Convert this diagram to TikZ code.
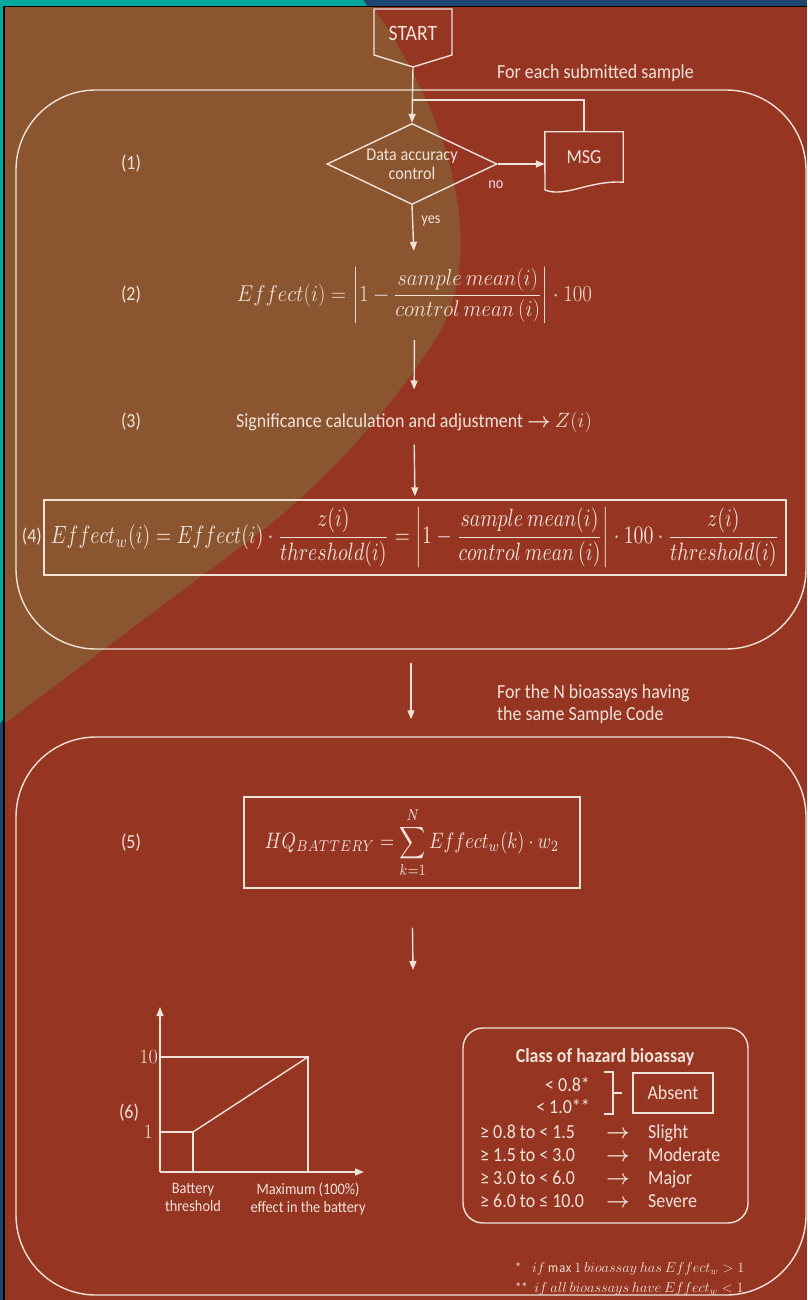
\documentclass[tikz,border=0pt]{standalone}
\usepackage{amsmath}
\usepackage{graphicx}
\usepackage{fontspec}
\setmainfont{Carlito}[FakeStretch=0.9]
\usetikzlibrary{arrows.meta,shapes.geometric}

\definecolor{panelred}{RGB}{150,53,34}
\definecolor{overlaybrown}{RGB}{139,85,48}
\definecolor{frameteal}{RGB}{0,168,158}
\definecolor{framenavy}{RGB}{30,68,112}
\definecolor{chalk}{RGB}{240,226,217}

\newcommand{\thickto}{$\boldsymbol{\rightarrow}$}

\begin{document}
\begin{tikzpicture}[x=1bp, y=-1bp,
    line/.style={draw=chalk, line width=1.4bp},
    arr/.style={line, -{Triangle[width=7bp,length=9bp]}},
    txt/.style={text=chalk, inner sep=0pt, font=\fontsize{20}{23}\selectfont},
    small/.style={font=\fontsize{16}{18}\selectfont},
    bigbox/.style={line, rounded corners=80bp, minimum width=790bp, minimum height=559bp},
]
    % background and frame
    \useasboundingbox (0,0) rectangle (807,1300);
    \fill[framenavy] (0,0) rectangle (807,1300);
    \fill[frameteal] (0,0) -- (363,0) -- (368,7) -- (4,7) -- (4,718) -- (0,724) -- cycle;
    \fill[panelred] (4,7) rectangle (807,1300);
    \fill[overlaybrown] (4,7) -- (373,7) .. controls (445,110) and (495,250) .. (432,345)
        .. controls (392,405) and (330,480) .. (250,540) -- (4,724) -- cycle;
    \draw[black, line width=1.5bp] (4,1300) -- (4,6.5) -- (807,6.5);

    % (1) data check
    \node[txt, font=\fontsize{22}{24}\selectfont] (start) at (413,33) {START};
    \draw[line] (374,9) -- (452,9) -- (452,55) -- (413,67) -- (374,55) -- cycle;
    \coordinate (startpt) at (413,67);
    \coordinate (join) at (413,100);

    \node[txt, anchor=west] (each) at (497,73) {For each submitted sample};
    \node[bigbox] (loopA) at (411,369.5) {};

    \node[line, diamond, aspect=2.1, minimum width=170bp, minimum height=81bp, inner sep=-4bp,
        align=center, text=chalk, font=\fontsize{18}{19}\selectfont] (check) at (412,164) {Data accuracy\\control};
    \node[txt, minimum width=78bp, minimum height=50bp] (msg) at (584,157) {MSG};
    \draw[line] (msg.north west) -- (msg.north east) -- (msg.south east)
        .. controls (590,180) and (565,198) .. (545,190) -- cycle;

    \draw[arr] (startpt) -- (check.north);
    \draw[arr] (check.east) -- (check.east -| msg.west);
    \draw[line] (msg.north) |- (join);
    \node[txt, small] (nolbl) at (496,185) {no};
    \node[txt, small] (yeslbl) at (431,221) {yes};
    \node[txt] (n1) at (131,164) {(1)};

    % (2) effect
    \node[txt] (eff) at (414.5,295.5)
        {\resizebox*{355bp}{55bp}{$Effect(i)=\left|1-\dfrac{sample\ mean(i)}{control\ mean\ (i)}\right|\cdot 100$}};
    \node[txt] (n2) at (131,295) {(2)};
    \draw[arr, shorten >=17bp] (check.south) -- (eff.north);

    % (3) significance
    \node[txt] (signif) at (414,422) {Significance calculation and adjustment \thickto\ $Z(i)$};
    \node[txt] (n3) at (131,422) {(3)};
    \draw[arr, shorten <=17bp, shorten >=22bp] (eff.south) -- (signif.north);

    % (4) weighted effect
    \node[line, text=chalk, inner sep=0pt, minimum width=742bp, minimum height=75bp] (weighted) at (415,537.5)
        {\resizebox*{728bp}{60bp}{$Effect_w(i)=Effect(i)\cdot\dfrac{z(i)}{threshold(i)}=\left|1-\dfrac{sample\ mean(i)}{control\ mean\ (i)}\right|\cdot 100\cdot\dfrac{z(i)}{threshold(i)}$}};
    \node[txt, anchor=east] (n4) at (42,537) {(4)};
    \draw[arr, shorten <=12bp, shorten >=3bp] (signif.south) -- (weighted.north);

    % (5) battery
    \node[txt, anchor=north west, align=left, font=\fontsize{20}{23}\selectfont] (batt) at (497,684)
        {For the N bioassays having\\the same Sample Code};
    \node[bigbox, minimum height=558bp] (loopB) at (411,1016) {};
    \draw[arr, shorten <=13bp, shorten >=17bp] (loopA.south) -- (loopB.north);

    \node[line, text=chalk, inner sep=0pt, minimum width=336bp, minimum height=91bp] (hq) at (412,842.5)
        {\resizebox*{294bp}{70bp}{$\displaystyle HQ_{BATTERY}=\sum_{k=1}^{N}Effect_w(k)\cdot w_2$}};
    \node[txt] (n5) at (131,843) {(5)};
    \coordinate (graphtop) at (413,970);
    \draw[arr, shorten <=39bp] (hq.south) -- (graphtop);

    % (6) classes
    \node[txt] (n6) at (129,1113) {(6)};
    \coordinate (O) at (160,1172);
    \coordinate (ytip) at (160,1007);
    \coordinate (xtip) at (364,1172);
    \coordinate (top) at (308,1057);
    \coordinate (knee) at (193,1132);
    \draw[arr] (O) -- (ytip);
    \draw[arr] (O) -- (xtip);
    \draw[line] (O |- top) -- (top) -- (top |- O);
    \draw[line] (O |- knee) -- (knee) -- (knee |- O);
    \draw[line] (knee) -- (top);
    \node[txt, anchor=east] (ten) at (158,1057) {\resizebox*{!}{13bp}{$10$}};
    \node[txt, anchor=east] (one) at (153,1132) {\resizebox*{!}{13bp}{$1$}};
    \node[txt, small, align=center, anchor=north] (bthr) at (193,1183) {Battery\\threshold};
    \node[txt, small, align=center, anchor=north] (maxe) at (308,1183) {Maximum (100\%)\\effect in the battery};

    \node[line, rounded corners=20bp, minimum width=285bp, minimum height=195bp] (classbox) at (605.5,1125.5) {};
    \node[txt, font=\bfseries\fontsize{20}{23}\selectfont] (classtitle) at (605,1057) {Class of hazard bioassay};
    \node[txt, anchor=base east] (lowa) at (590,1091) {< 0.8*};
    \node[txt, anchor=base east] (lowb) at (590,1113) {< 1.0**};
    \draw[line] (604,1072) -- (613,1072) -- (613,1114) -- (604,1114) (613,1093) -- (622,1093);
    \node[line, text=chalk, inner sep=0pt, minimum width=80bp, minimum height=40bp,
        font=\fontsize{20}{23}\selectfont] (absent) at (673,1093) {Absent};
    \foreach \lo/\cl [count=\k from 0] in {{≥ 0.8 to < 1.5}/Slight, {≥ 1.5 to < 3.0}/Moderate,
        {≥ 3.0 to < 6.0}/Major, {≥ 6.0 to ≤ 10.0}/Severe} {
        \node[txt, anchor=base west] (range\k) at (480,1138+23.3*\k) {\lo};
        \node[txt, anchor=base] (to\k) at (618,1138+23.3*\k) {\thickto};
        \node[txt, anchor=base west] (cls\k) at (648,1138+23.3*\k) {\cl};
    }

    \node[txt, anchor=base west, font=\fontsize{14}{16}\selectfont] (foota) at (515,1272)
        {*\;\; $if\ \mathrm{max}\,1\ bioassay\ has\ Effect_w>1$};
    \node[txt, anchor=base west, font=\fontsize{14}{16}\selectfont] (footb) at (515,1292)
        {**\; $if\ all\ bioassays\ have\ Effect_w<1$};
\end{tikzpicture}
\end{document}
